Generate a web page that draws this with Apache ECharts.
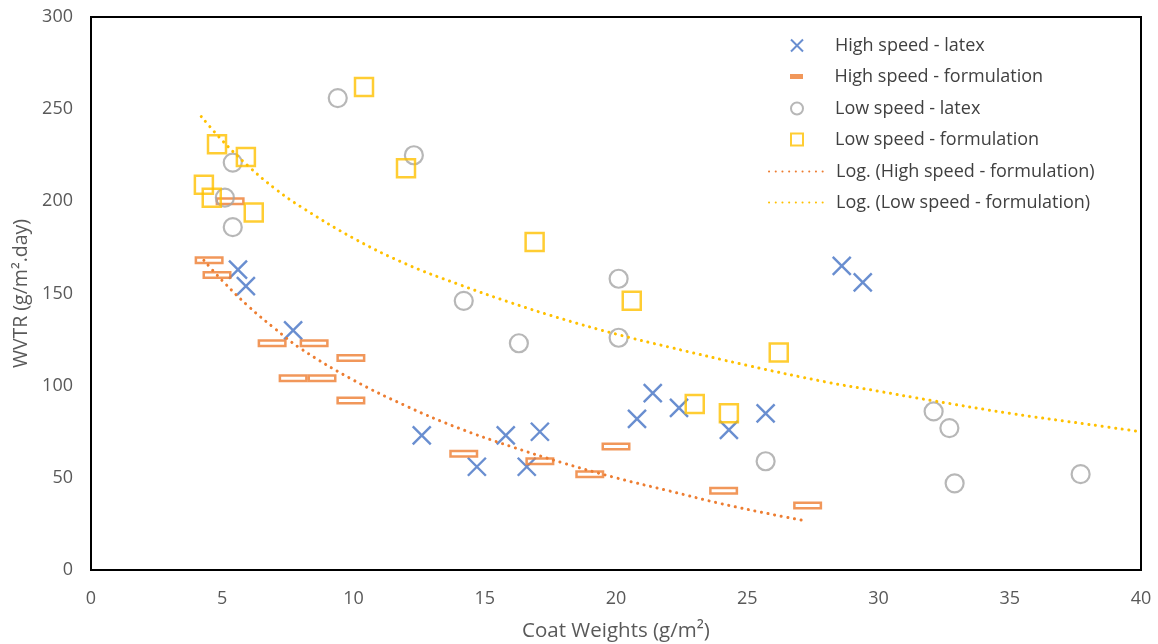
<!DOCTYPE html>
<html>
<head>
<meta charset="utf-8">
<script src="https://cdn.jsdelivr.net/npm/echarts@6/dist/echarts.min.js"></script>
<style>
html,body{margin:0;padding:0;background:#fff;}
#chart{width:1158px;height:644px;}
</style>
</head>
<body>
<div id="chart"></div>
<script>
// ---- data ----
const seriesNames = [
  'High speed - latex',
  'High speed - formulation',
  'Low speed - latex',
  'Low speed - formulation',
  'Log. (High speed - formulation)',
  'Log. (Low speed - formulation)'
];
const highSpeedLatex = [
  [5.6,163],[5.9,154],[7.7,130],[12.6,73],[14.7,56],[15.8,73],[16.6,56],[17.1,75],
  [20.8,82],[21.4,96],[22.4,88],[24.3,76],[25.7,85],[28.6,165],[29.4,156]
];
const highSpeedFormulation = [
  [4.5,168],[4.8,160],[5.3,200],[6.9,123],[8.5,123],[9.9,115],[7.7,104],[8.8,104],
  [9.9,92],[14.2,63],[17.1,59],[19.0,52],[20.0,67],[24.1,43],[27.3,35]
];
const lowSpeedLatex = [
  [5.1,202],[5.4,221],[5.4,186],[9.4,256],[12.3,225],[14.2,146],[16.3,123],[20.1,158],
  [20.1,126],[25.7,59],[32.1,86],[32.7,77],[32.9,47],[37.7,52]
];
const lowSpeedFormulation = [
  [4.8,231],[5.9,224],[4.3,209],[4.6,202],[6.2,194],[10.4,262],[12.0,218],[16.9,178],
  [20.6,146],[23.0,90],[24.3,85],[26.2,118]
];
// trend curves
const trendHighSpeed = [
  [4.3,168],[5,157],[6,143],[7,131],[8,120],[10,103],[12,89],[14,77],[16,67],
  [18,58],[20,50],[22,43],[24,36],[26,30],[27.1,27]
];
const trendLowSpeed = [
  [4.2,246],[5,233],[6,219],[7,207],[8,197],[10,180],[12,166],[14,155],[16,145],
  [18,136],[20,128],[22,121],[25,111],[28,102],[30,97],[32,92],[35,85],[38,79],[40,75]
];
const xTicks = {min:0, max:40, interval:5};
const yTicks = {min:0, max:300, interval:50};

// ---- chart ----
const FONT = 'Open Sans';
const TXT = '#595959';
const LEG_TXT = '#404040';
const BLUE = '#4472C4', ORANGE = '#ED7D31', GRAY = '#A5A5A5', GOLD = '#FFC000';
const X_PATH = 'path://M0,0L10,10M10,0L0,10';
const SQ_PATH = 'path://M0,0H10V10H0Z';
const DASH_PATH = 'path://M0,0H13V5H0Z';
const RING_PATH = 'path://M0,0H29V8H0Z M2.5,2.5V5.5H26.5V2.5Z';

const rowY = [45.5, 76.5, 108.5, 139.5, 171.5, 202.5];
function lg(name, idx, w, h, left, extra) {
  return Object.assign({
    data: [name], orient: 'vertical', left: left, top: rowY[idx] - 9,
    itemWidth: w, itemHeight: h, padding: 0, selectedMode: false,
    textStyle: {fontFamily: FONT, fontSize: 18, lineHeight: 18, color: LEG_TXT}
  }, extra || {});
}

const chart = echarts.init(document.getElementById('chart'));
chart.setOption({
  animation: false,
  backgroundColor: '#fff',
  grid: {left: 91, right: 17, top: 17, bottom: 74, containLabel: false, outerBoundsMode: 'none',
         show: true, borderColor: '#000', borderWidth: 2, backgroundColor: 'transparent'},
  xAxis: {
    type: 'value', min: xTicks.min, max: xTicks.max, interval: xTicks.interval,
    name: 'Coat Weights (g/m²)', nameLocation: 'middle', nameGap: 51,
    nameTextStyle: {fontFamily: FONT, fontSize: 20.5, color: TXT},
    axisLine: {show: false}, axisTick: {show: false}, splitLine: {show: false},
    axisLabel: {fontFamily: FONT, fontSize: 18, color: TXT, margin: 20}
  },
  yAxis: {
    type: 'value', min: yTicks.min, max: yTicks.max, interval: yTicks.interval,
    name: 'WVTR (g/m².day)', nameLocation: 'middle', nameGap: 57,
    nameTextStyle: {fontFamily: FONT, fontSize: 19.5, color: TXT},
    axisLine: {show: false}, axisTick: {show: false}, splitLine: {show: false},
    axisLabel: {fontFamily: FONT, fontSize: 18, color: TXT, margin: 18}
  },
  legend: [
    lg(seriesNames[0], 0, 66, 12, 790),
    lg(seriesNames[1], 1, 66, 5, 790, {data: [{name: seriesNames[1], icon: DASH_PATH}], itemStyle: {color: ORANGE, borderWidth: 0}}),
    lg(seriesNames[2], 2, 66, 12, 790),
    lg(seriesNames[3], 3, 66, 12, 790),
    lg(seriesNames[4], 4, 55, 14, 768, {itemStyle: {color: 'transparent', borderWidth: 0, opacity: 0},
       textStyle: {fontFamily: FONT, fontSize: 18, lineHeight: 18, color: LEG_TXT, padding: [0,0,0,7]}}),
    lg(seriesNames[5], 5, 55, 14, 768, {itemStyle: {color: 'transparent', borderWidth: 0, opacity: 0},
       textStyle: {fontFamily: FONT, fontSize: 18, lineHeight: 18, color: LEG_TXT, padding: [0,0,0,7]}})
  ],
  series: [
    {name: seriesNames[0], type: 'scatter', data: highSpeedLatex, symbol: X_PATH, symbolSize: 18,
     itemStyle: {color: 'transparent', borderColor: BLUE, borderWidth: 2.4}, z: 2},
    {name: seriesNames[1], type: 'scatter', data: highSpeedFormulation, symbol: RING_PATH, symbolSize: [29, 8],
     itemStyle: {color: ORANGE, borderWidth: 0}, z: 3},
    {name: seriesNames[2], type: 'scatter', data: lowSpeedLatex, symbol: 'circle', symbolSize: 18,
     itemStyle: {color: 'transparent', borderColor: GRAY, borderWidth: 2.2}, z: 4},
    {name: seriesNames[3], type: 'scatter', data: lowSpeedFormulation, symbol: SQ_PATH, symbolSize: 18,
     itemStyle: {color: 'transparent', borderColor: GOLD, borderWidth: 2.5}, z: 5},
    {name: seriesNames[4], type: 'line', data: trendHighSpeed, smooth: 0.4, symbol: 'none', showSymbol: false,
     lineStyle: {color: ORANGE, width: 3, type: [0.1, 6.6], cap: 'round'}, itemStyle: {color: ORANGE}, z: 6},
    {name: seriesNames[5], type: 'line', data: trendLowSpeed, smooth: 0.4, symbol: 'none', showSymbol: false,
     lineStyle: {color: GOLD, width: 3, type: [0.1, 6.6], cap: 'round'}, itemStyle: {color: GOLD}, z: 6}
  ]
});
</script>
</body>
</html>
